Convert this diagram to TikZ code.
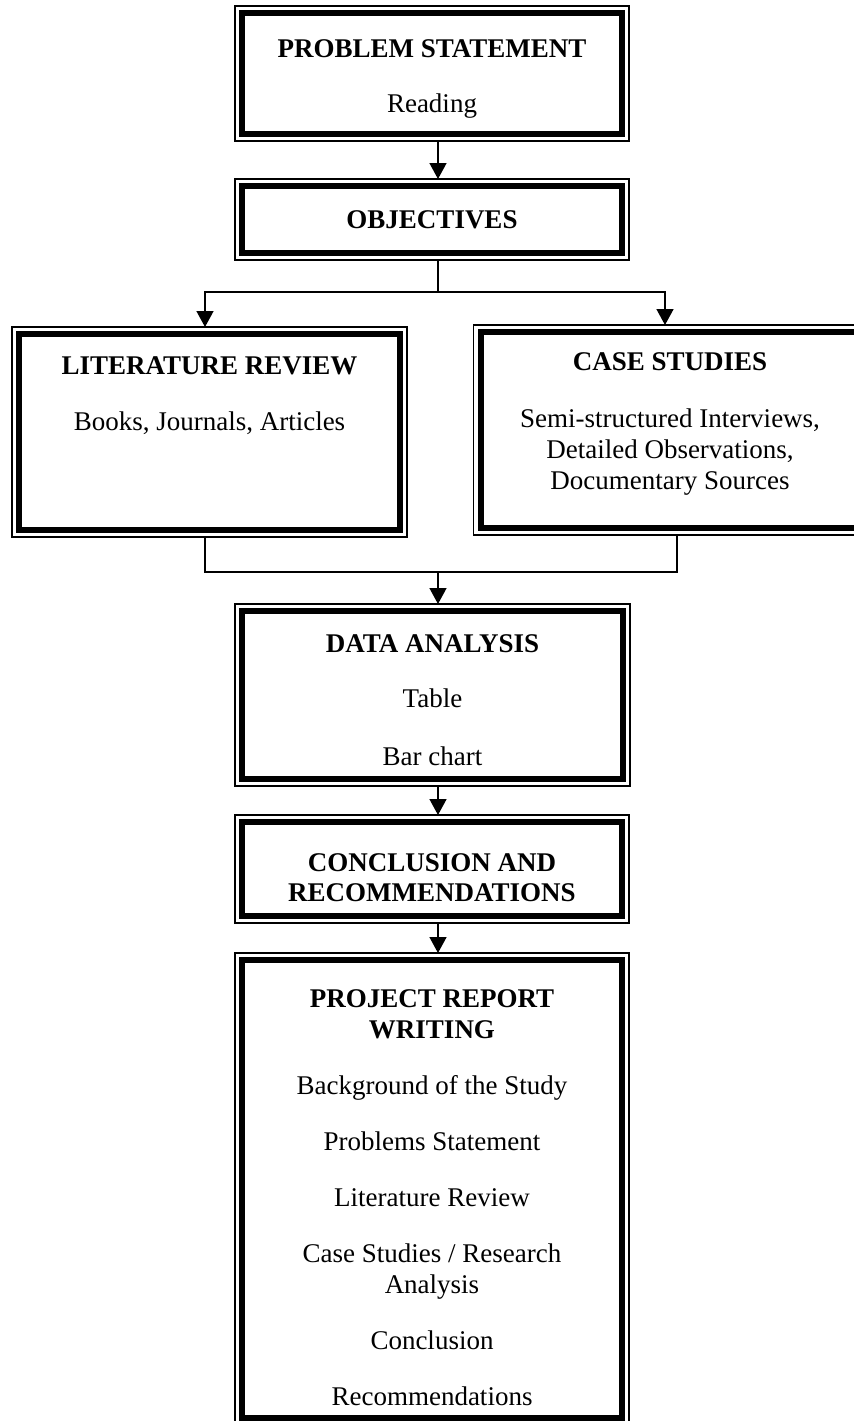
\documentclass[tikz,border=0pt]{standalone}
\usepackage{fontspec}
\setmainfont{Liberation Serif}
\usetikzlibrary{arrows.meta}
\begin{document}
\begin{tikzpicture}[x=0.5pt,y=-0.5pt,
  box/.style={draw, rectangle, line width=0.75pt, inner sep=0pt, outer sep=0pt},
  thickline/.style={line width=3pt},
  conn/.style={line width=0.75pt},
  arr/.style={conn, -{Triangle[length=8pt,width=8.5pt]}},
  tx/.style={anchor=base, inner sep=0pt, font=\fontsize{13.5}{15.5}\selectfont},
  hd/.style={anchor=base, inner sep=0pt, font=\fontsize{13.5}{15.5}\selectfont\bfseries}]
\useasboundingbox (0,0) rectangle (854,1421);

% boxes (outer thin line)
\node[box, minimum width=197pt, minimum height=67.5pt] (ps) at (432,73.5) {};
\node[box, minimum width=197pt, minimum height=40.5pt] (ob) at (432,219.5) {};
\node[box, minimum width=197.5pt, minimum height=105pt] (lr) at (209.5,432) {};
\node[box, minimum width=197pt, minimum height=105pt] (cs) at (670.5,430) {};
\node[box, minimum width=197.5pt, minimum height=91pt] (da) at (432.5,695) {};
\node[box, minimum width=197pt, minimum height=54pt] (cr) at (432,869) {};
\node[box, minimum width=197pt, minimum height=236pt] (pr) at (432,1189) {};

% inner thick line
\foreach \n in {ps,ob,lr,cs,da,cr,pr}
  \draw[thickline] ([shift={(7,7)}]\n.north west) rectangle ([shift={(-7,-7)}]\n.south east);

% texts
\node[hd] (t1) at (432,57) {PROBLEM STATEMENT};
\node[tx] (t2) at (432,112) {Reading};
\node[hd] (t3) at (432,228.5) {OBJECTIVES};
\node[hd] (t4) at (209.5,374) {LITERATURE REVIEW};
\node[tx] (t5) at (209.5,430) {Books, Journals, Articles};
\node[hd] (t6) at (670,370) {CASE STUDIES};
\node[tx] (t7) at (670,427) {Semi-structured Interviews,};
\node[tx] (t8) at (670,458) {Detailed Observations,};
\node[tx] (t9) at (670,489) {Documentary Sources};
\node[hd] (t10) at (432.5,652) {DATA ANALYSIS};
\node[tx] (t11) at (432.5,707) {Table};
\node[tx] (t12) at (432.5,765) {Bar chart};
\node[hd] (t13) at (432,871) {CONCLUSION AND};
\node[hd] (t14) at (432,901) {RECOMMENDATIONS};
\node[hd] (t15) at (432,1007) {PROJECT REPORT};
\node[hd] (t16) at (432,1038) {WRITING};
\node[tx] (t17) at (432,1094) {Background of the Study};
\node[tx] (t18) at (432,1150) {Problems Statement};
\node[tx] (t19) at (432,1206) {Literature Review};
\node[tx] (t20) at (432,1262) {Case Studies / Research};
\node[tx] (t21) at (432,1293) {Analysis};
\node[tx] (t22) at (432,1349) {Conclusion};
\node[tx] (t23) at (432,1405) {Recommendations};

% connectors
\draw[arr] ([xshift=3pt]ps.south) -- ([xshift=3pt]ob.north);
\coordinate (j1) at (438,292);
\draw[conn] ([xshift=3pt]ob.south) -- (j1);
\draw[arr] (j1) -| ([xshift=-2.25pt]lr.north);
\draw[arr] (j1) -| ([xshift=-2.75pt]cs.north);
\coordinate (j2) at (438,572);
\draw[conn] ([xshift=-2.25pt]lr.south) |- (j2);
\draw[conn] ([xshift=3.25pt]cs.south) |- (j2);
\draw[arr] (j2) -- ([xshift=2.75pt]da.north);
\draw[arr] ([xshift=2.75pt]da.south) -- ([xshift=3pt]cr.north);
\draw[arr] ([xshift=3pt]cr.south) -- ([xshift=3pt]pr.north);
\end{tikzpicture}
\end{document}
